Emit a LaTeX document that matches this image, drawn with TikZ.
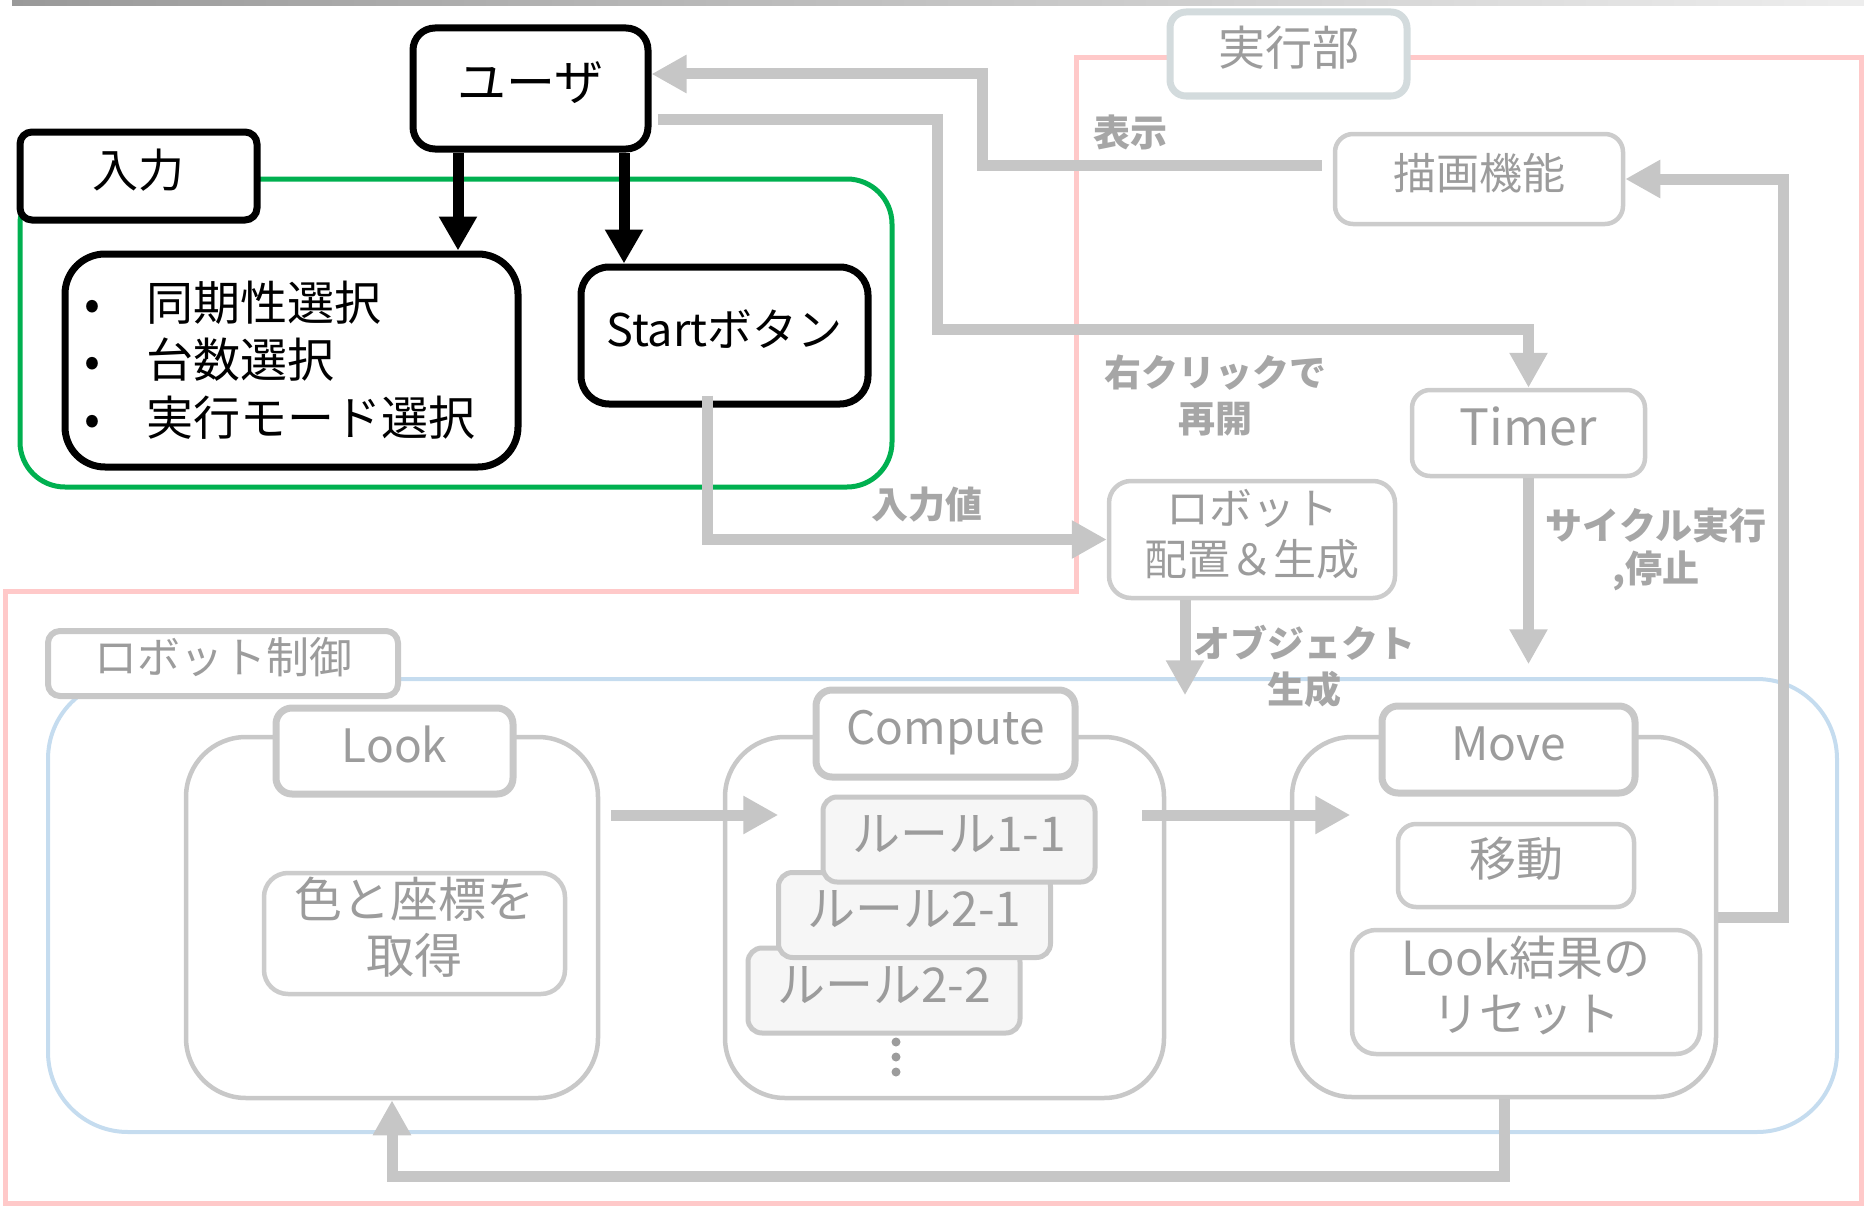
\documentclass[tikz,border=0pt]{standalone}
\usepackage{fontspec}
\setmainfont{Noto Sans CJK JP}
\usetikzlibrary{arrows.meta}
\definecolor{ggreen}{HTML}{00B050}
\definecolor{gpink}{HTML}{FFC9C9}
\definecolor{gblue}{HTML}{C5DCEF}
\definecolor{boxgray}{HTML}{CCCCCC}
\definecolor{lblgray}{HTML}{C8C8C8}
\definecolor{txtgray}{HTML}{9C9C9C}
\definecolor{lbltxt}{HTML}{A6A6A6}
\definecolor{conngray}{HTML}{C6C6C6}
\definecolor{hdrgray}{HTML}{D3DBDD}
\definecolor{rulefill}{HTML}{F6F6F6}
\newcommand{\tb}[1]{\begin{tabular}{@{}c@{}}#1\end{tabular}}
\begin{document}
\begin{tikzpicture}[x=1pt,y=-1pt,
  blkbox/.style={draw=black,line width=7pt,fill=white,inner sep=0pt},
  graybox/.style={draw=boxgray,line width=4.5pt,fill=white,inner sep=0pt,text=txtgray},
  headbox/.style={draw=lblgray,line width=7pt,fill=white,inner sep=0pt,text=txtgray,rounded corners=16pt},
  rulebox/.style={draw=lblgray,line width=5pt,fill=rulefill,inner sep=0pt,text=txtgray,rounded corners=14pt,
    minimum width=272pt,minimum height=85pt,font=\fontsize{48}{58}\selectfont},
  outerbox/.style={draw=lblgray,line width=4.5pt,fill=white,inner sep=0pt,rounded corners=60pt},
  blkarrow/.style={draw=black,line width=11pt,-{Triangle[length=34pt,width=36pt]}},
  garrow/.style={draw=conngray,line width=11pt,-{Triangle[length=35pt,width=36pt]}},
  lbl/.style={text=lbltxt,font=\fontsize{37}{46}\selectfont\bfseries,align=center,inner sep=0pt}]
\useasboundingbox (0,0) rectangle (1864,1207);
% top bar
\shade[left color=black!40, right color=black!7] (12,0) rectangle (1864,6);
% execution region (pink)
\draw[gpink,line width=5pt] (1076,58) -- (1861,58) -- (1861,1203) -- (5,1203) -- (5,591) -- (1076,591) -- cycle;
% input region
\node[draw=ggreen,line width=5pt,rounded corners=45pt,minimum width=872pt,minimum height=308pt,inner sep=0pt] (inbox) at (456,333) {};
\node[blkbox,rounded corners=12pt,minimum width=237pt,minimum height=88pt,font=\fontsize{46}{56}\selectfont] (inlabel) at (138.5,176) {\tb{入力}};
\node[blkbox,rounded corners=22pt,minimum width=235pt,minimum height=121pt,font=\fontsize{49}{58}\selectfont] (user) at (530.5,88.5) {\tb{ユーザ}};
\node[blkbox,rounded corners=40pt,minimum width=453pt,minimum height=213pt] (bullets) at (291.5,360.5) {};
\node[anchor=west,align=left,inner sep=0pt,font=\fontsize{47}{57.5}\selectfont] (bltxt) at (84,360)
  {\makebox[62pt][l]{•}同期性選択\\\makebox[62pt][l]{•}台数選択\\\makebox[62pt][l]{•}実行モード選択};
\node[blkbox,rounded corners=28pt,minimum width=287pt,minimum height=137pt,font=\fontsize{45}{54}\selectfont] (start) at (724.5,335.5) {\tb{Startボタン}};
\coordinate (ua) at ([xshift=-72.5pt]user.south);
\coordinate (ub) at ([xshift=93.5pt]user.south);
\draw[blkarrow] (ua) -- (ua |- bullets.north);
\draw[blkarrow] (ub) -- (ub |- start.north);
% execution label
\node[draw=hdrgray,line width=7pt,fill=white,rounded corners=16pt,inner sep=0pt,minimum width=237pt,minimum height=84pt,text=txtgray,font=\fontsize{47}{56}\selectfont] (execlabel) at (1288.5,54) {\tb{実行部}};
% robot control region (blue)
\node[draw=gblue,line width=4pt,rounded corners=80pt,minimum width=1789pt,minimum height=453pt,inner sep=0pt] (ctrl) at (942.5,905.5) {};
\node[draw=lblgray,line width=6pt,fill=white,rounded corners=12pt,inner sep=0pt,minimum width=350pt,minimum height=65pt,text=txtgray,font=\fontsize{43}{52}\selectfont] (ctrllabel) at (223,663.5) {\tb{ロボット制御}};
% Look
\node[outerbox,minimum width=412pt,minimum height=361pt] (lookO) at (392,917.5) {};
\node[headbox,minimum width=237pt,minimum height=86pt,font=\fontsize{46}{55}\selectfont] (lookH) at (394.5,751) {\tb{Look}};
\node[graybox,rounded corners=24pt,minimum width=301pt,minimum height=121pt,font=\fontsize{48}{54}\selectfont] (lookB) at (414.5,933.5) {\tb{色と座標を\\取得}};
% Compute
\node[outerbox,minimum width=439pt,minimum height=361pt] (compO) at (944.5,917.5) {};
\node[headbox,minimum width=259pt,minimum height=87pt,font=\fontsize{46}{55}\selectfont] (compH) at (945.5,733.5) {\tb{Compute}};
\node[rulebox] (r22) at (884,990.5) {\tb{ルール2-2}};
\node[rulebox] (r21) at (914.5,915) {\tb{ルール2-1}};
\node[rulebox] (r11) at (959,839.5) {\tb{ルール1-1}};
\fill[txtgray] (896,1042) circle (4.5);
\fill[txtgray] (896,1057) circle (4.5);
\fill[txtgray] (896,1072) circle (4.5);
% Move
\node[outerbox,minimum width=424pt,minimum height=360pt] (moveO) at (1504,917) {};
\node[headbox,minimum width=253pt,minimum height=87pt,font=\fontsize{46}{55}\selectfont] (moveH) at (1508.5,749.5) {\tb{Move}};
\node[graybox,rounded corners=18pt,minimum width=236pt,minimum height=83pt,font=\fontsize{47}{55}\selectfont] (moveB) at (1516,865.5) {\tb{移動}};
\node[graybox,rounded corners=24pt,minimum width=348pt,minimum height=124pt,font=\fontsize{47}{56}\selectfont] (resetB) at (1526,992) {\tb{Look結果の\\リセット}};
% execution part boxes
\node[graybox,rounded corners=18pt,minimum width=288pt,minimum height=90pt,font=\fontsize{43}{52}\selectfont] (drawfn) at (1479,179) {\tb{描画機能}};
\node[graybox,rounded corners=18pt,minimum width=233pt,minimum height=86pt,font=\fontsize{50}{60}\selectfont] (timer) at (1528.5,433) {\tb{Timer}};
\node[graybox,rounded corners=22pt,minimum width=286pt,minimum height=117pt,font=\fontsize{43}{50}\selectfont] (robot) at (1252,539.5) {\tb{ロボット\\配置＆生成}};
% gray connectors
\coordinate (d1) at ([yshift=14pt]drawfn.west);
\coordinate (u1) at ([yshift=14.5pt]user.east);
\draw[garrow,shorten <=11pt] (d1) -| (982,120) |- (u1);
\coordinate (u2) at ([xshift=6pt,yshift=-30.5pt]user.east);
\draw[garrow] (u2) -| (937,329) -| (timer.north);
\coordinate (s1) at ([xshift=-17.5pt,yshift=12pt]start.south);
\draw[garrow] (s1) |- (robot.west);
\coordinate (r1) at ([xshift=-67pt]robot.south);
\coordinate (objend) at ([yshift=-95pt]r1);
\draw[garrow] (r1) -- (objend);
\coordinate (cycend) at ([yshift=-186pt]timer.south);
\draw[garrow] (timer.south) -- (cycend);
\coordinate (l1) at ([yshift=102.5pt]lookO.east);
\draw[garrow,shorten <=11pt] (l1) -- ++(178,0);
\coordinate (c1) at ([xshift=-24pt,yshift=102.5pt]compO.east);
\draw[garrow] (c1) -- ++(208,0);
\draw[garrow] (moveO.east) -| (1783,500) |- (drawfn.east);
\draw[garrow] (moveO.south) -- ++(0,77) -| (lookO.south);
% labels
\node[lbl] (ldisp) at (1130,132) {表示};
\node[lbl] (lresume) at (1215,395) {右クリックで\\再開};
\node[lbl] (linput) at (927,505) {入力値};
\node[lbl,font=\fontsize{37}{43}\selectfont\bfseries] (lcycle) at (1656,549) {サイクル実行\\,停止};
\node[lbl] (lobj) at (1304,666) {オブジェクト\\生成};
\end{tikzpicture}
\end{document}
